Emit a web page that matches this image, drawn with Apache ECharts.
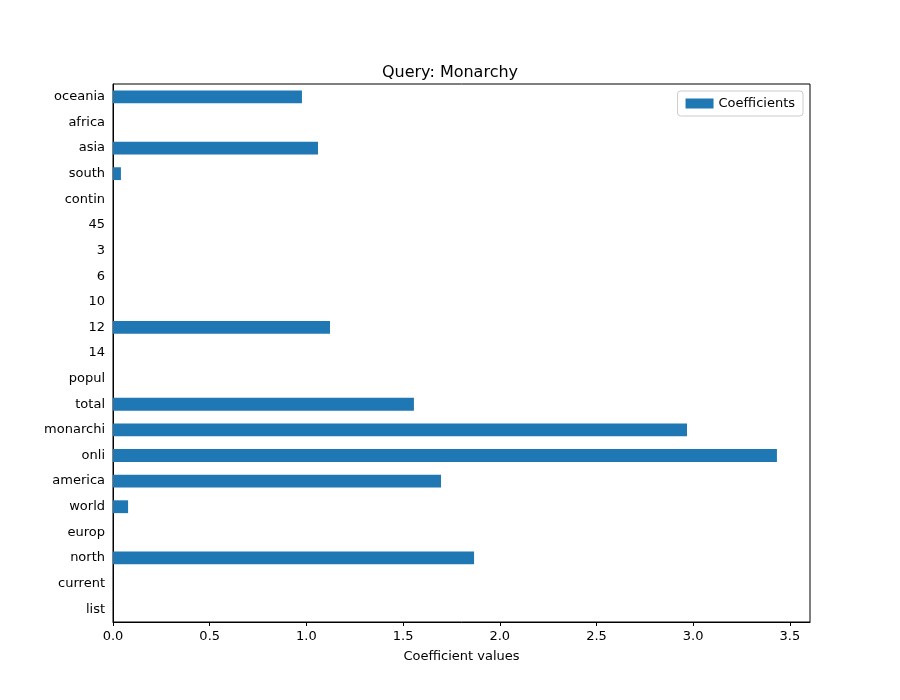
<!DOCTYPE html>
<html><head><meta charset="utf-8">
<script src="https://cdn.jsdelivr.net/npm/echarts@6/dist/echarts.min.js"></script>
<style>html,body{margin:0;padding:0;background:#fff}#c{width:900px;height:700px}</style>
</head><body><div id="c"></div>
<script>
const categories = ["list","current","north","europ","world","america","onli","monarchi","total","popul","14","12","10","6","3","45","contin","south","asia","africa","oceania"];
const coefficients = [0,0,1.867,0,0.078,1.696,3.433,2.968,1.556,0,0,1.122,0,0,0,0,0,0.041,1.06,0,0.977];
const xTicks = [0,0.5,1.0,1.5,2.0,2.5,3.0,3.5];
const chart = echarts.init(document.getElementById('c'));
const font = 'DejaVu Sans';
chart.setOption({
  animation:false,
  textStyle:{fontFamily:font},
  title:{text:'Query: Monarchy',left:'center',top:60,textStyle:{fontFamily:font,fontSize:16,fontWeight:'normal',color:'#000'}},
  legend:{right:97,top:91,itemWidth:28,itemHeight:10,borderColor:'#ccc',borderWidth:1,borderRadius:3,padding:[6,8],
    textStyle:{fontFamily:font,fontSize:13,color:'#000'},data:[{name:'Coefficients',icon:'rect'}]},
  grid:{left:113,right:90,top:84,bottom:78},
  xAxis:{type:'value',min:0,max:3.604,interval:0.5,name:'Coefficient values',nameLocation:'middle',nameGap:28,
    nameTextStyle:{fontFamily:font,fontSize:13,color:'#000'},
    axisLine:{show:true,lineStyle:{color:'#000'}},axisTick:{show:true,length:4,lineStyle:{color:'#000'}},
    splitLine:{show:false},
    axisLabel:{color:'#000',fontSize:13,fontFamily:font,showMaxLabel:false,formatter:v=>{const t=xTicks.find(x=>Math.abs(x-v)<1e-6);return t===undefined?'':t.toFixed(1);}}},
  yAxis:{type:'category',data:categories,axisLine:{lineStyle:{color:'#000'}},
    axisTick:{alignWithLabel:true,length:4,lineStyle:{color:'#000'}},
    axisLabel:{color:'#000',fontSize:13,fontFamily:font}},
  series:[{name:'Coefficients',type:'bar',data:coefficients,barWidth:'50%',itemStyle:{color:'#1f77b4'}}]
});
// top/right frame
chart.setOption({graphic:[{type:'rect',shape:{x:113,y:84,width:697,height:538},style:{fill:'none',stroke:'#000',lineWidth:1},silent:true}]});
</script></body></html>
